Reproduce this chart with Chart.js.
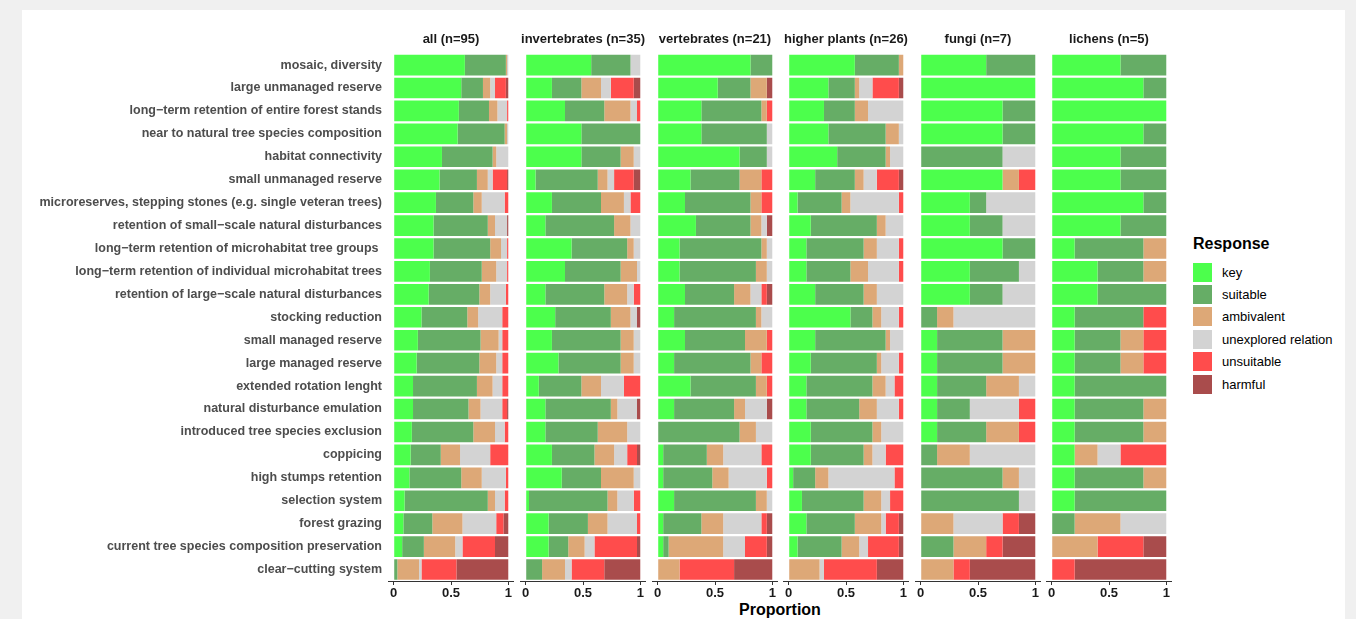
<!DOCTYPE html>
<html>
<head>
<meta charset="utf-8">
<script src="https://cdn.jsdelivr.net/npm/chart.js@4.4.1/dist/chart.umd.min.js"></script>
<style>
  body { margin: 0; width: 1356px; height: 619px; overflow: hidden; background: #f0f0f0;
         font-family: "Liberation Sans", Arial, sans-serif; }
  #page { position: absolute; left: 22px; top: 10px; width: 1323px; height: 609px; background: #fff; }
  .panel { position: absolute; top: 28px; height: 575px; }
  #xtitle { position: absolute; left: 680px; width: 200px; top: 601px; text-align: center;
            font-weight: bold; font-size: 16px; color: #000; }
  #legend { position: absolute; left: 1193px; top: 235px; }
  #legend .ttl { font-weight: bold; font-size: 16px; color: #000; height: 26px; }
  #legend .item { height: 22.4px; display: flex; align-items: center; font-size: 13px; color: #000; }
  #legend .sw { width: 19px; height: 19px; margin-right: 10px; }
</style>
</head>
<body>
<div id="page"></div>
<div id="xtitle">Proportion</div>
<div id="legend"><div class="ttl">Response</div></div>
<script>
// measures, top to bottom
const categories = [
  'mosaic, diversity',
  'large unmanaged reserve',
  'long−term retention of entire forest stands',
  'near to natural tree species composition',
  'habitat connectivity',
  'small unmanaged reserve',
  'microreserves, stepping stones (e.g. single veteran trees)',
  'retention of small−scale natural disturbances',
  'long−term retention of microhabitat tree groups ',
  'long−term retention of individual microhabitat trees',
  'retention of large−scale natural disturbances',
  'stocking reduction',
  'small managed reserve',
  'large managed reserve',
  'extended rotation lenght',
  'natural disturbance emulation',
  'introduced tree species exclusion',
  'coppicing',
  'high stumps retention',
  'selection system',
  'forest grazing',
  'current tree species composition preservation',
  'clear−cutting system'
];

const responses = ['key', 'suitable', 'ambivalent', 'unexplored relation', 'unsuitable', 'harmful'];
const responseColors = ['#4CFF4C', '#66AD66', '#DDA877', '#D3D3D3', '#FF4C4C', '#A94C4C'];

const groups = ['all', 'invertebrates', 'vertebrates', 'higher plants', 'fungi', 'lichens'];
const groupN = [95, 35, 21, 26, 7, 5];

// counts per measure: key, suitable, ambivalent, unexplored, unsuitable, harmful
const allCounts = [
  [59,34,1,1,0,0],[56,18,6,4,9,2],[54,25,7,8,1,0],[53,39,2,1,0,0],[40,42,3,10,0,0],
  [38,31,9,4,12,1],[35,31,7,19,3,0],[33,45,6,10,0,1],[33,47,9,5,1,0],[30,43,12,9,1,0],
  [29,42,9,13,2,0],[23,38,9,20,5,0],[20,52,15,3,5,0],[19,52,14,5,5,0],[16,53,13,8,5,0],
  [16,46,10,18,4,1],[15,51,18,8,3,0],[14,25,16,25,15,0],[13,43,17,20,2,0],[9,69,6,8,3,0],
  [8,24,25,28,6,4],[7,18,26,6,27,11],[0,3,18,2,29,43]
];
const invertebrateCounts = [
  [20,12,0,3,0,0],[8,9,6,3,7,2],[12,12,8,2,1,0],[17,18,0,0,0,0],[17,12,4,2,0,0],
  [3,19,3,2,6,2],[8,15,7,2,3,0],[6,21,5,3,0,0],[14,17,2,2,0,0],[12,17,5,1,0,0],
  [6,18,7,2,2,0],[9,17,6,2,0,1],[8,21,4,2,0,0],[10,19,4,2,0,0],[4,13,6,7,5,0],
  [6,20,2,6,0,1],[6,16,9,4,0,0],[8,13,6,4,3,1],[11,12,10,2,0,0],[1,24,3,5,2,0],
  [7,12,6,9,1,0],[7,6,5,3,13,1],[0,5,7,2,10,11]
];
const vertebrateCounts = [
  [17,4,0,0,0,0],[11,6,3,0,0,1],[8,11,1,0,1,0],[8,12,0,1,0,0],[15,5,0,1,0,0],
  [6,9,4,0,2,0],[5,12,2,0,2,0],[7,10,2,1,0,1],[4,15,1,1,0,0],[4,14,2,1,0,0],
  [5,9,3,2,1,1],[3,15,1,2,0,0],[5,11,4,0,1,0],[3,14,2,0,2,0],[6,12,2,0,1,0],
  [3,11,2,4,0,1],[0,15,3,3,0,0],[1,8,3,7,2,0],[1,9,3,7,1,0],[3,15,2,1,0,0],
  [1,7,4,7,1,1],[1,1,10,4,4,1],[0,0,4,0,10,7]
];
const plantCounts = [
  [15,10,1,0,0,0],[9,6,1,3,6,1],[8,7,3,8,0,0],[9,13,3,1,0,0],[11,11,1,3,0,0],
  [6,9,2,3,5,1],[2,10,2,11,1,0],[5,15,2,4,0,0],[4,13,3,5,1,0],[4,10,4,7,1,0],
  [6,11,3,6,0,0],[14,5,2,4,1,0],[6,16,1,3,0,0],[5,15,1,4,1,0],[4,15,3,2,2,0],
  [4,12,4,5,1,0],[5,14,2,5,0,0],[5,12,2,3,4,0],[1,5,3,15,2,0],[3,14,4,2,3,0],
  [4,11,6,1,3,1],[2,10,4,2,7,1],[0,0,7,1,12,6]
];
const fungiCounts = [
  [4,3,0,0,0,0],[7,0,0,0,0,0],[5,2,0,0,0,0],[5,2,0,0,0,0],[0,5,0,2,0,0],
  [5,0,1,0,1,0],[3,1,0,3,0,0],[3,2,0,2,0,0],[5,2,0,0,0,0],[3,3,0,1,0,0],
  [3,2,0,2,0,0],[0,1,1,5,0,0],[1,4,2,0,0,0],[1,4,2,0,0,0],[1,3,2,1,0,0],
  [1,2,0,3,1,0],[1,3,2,0,1,0],[0,1,2,4,0,0],[0,5,1,1,0,0],[0,6,0,1,0,0],
  [0,0,2,3,1,1],[0,2,2,0,1,2],[0,0,2,0,1,4]
];
const lichenCounts = [
  [3,2,0,0,0,0],[4,1,0,0,0,0],[5,0,0,0,0,0],[4,1,0,0,0,0],[3,2,0,0,0,0],
  [3,2,0,0,0,0],[4,1,0,0,0,0],[3,2,0,0,0,0],[1,3,1,0,0,0],[2,2,1,0,0,0],
  [2,3,0,0,0,0],[1,3,0,0,1,0],[1,2,1,0,1,0],[1,2,1,0,1,0],[1,4,0,0,0,0],
  [1,3,1,0,0,0],[1,3,1,0,0,0],[1,0,1,1,2,0],[1,3,1,0,0,0],[1,4,0,0,0,0],
  [0,1,2,2,0,0],[0,0,2,0,2,1],[0,0,0,0,1,4]
];
const groupCounts = [allCounts, invertebrateCounts, vertebrateCounts, plantCounts, fungiCounts, lichenCounts];

const tickValues = [0, 0.5, 1];

const FONT = '"Liberation Sans", Arial, sans-serif';
const panelLefts = [388, 520, 652, 783, 915, 1046];
const panelWidth = 126;
const labelLeft = 22;

groups.forEach((g, k) => {
  const first = k === 0;
  const n = groupN[k];
  const counts = groupCounts[k];

  const wrap = document.createElement('div');
  wrap.className = 'panel';
  const left = first ? labelLeft : panelLefts[k];
  wrap.style.left = left + 'px';
  wrap.style.width = (panelLefts[k] + panelWidth - left) + 'px';
  const canvas = document.createElement('canvas');
  wrap.appendChild(canvas);
  document.body.appendChild(wrap);

  new Chart(canvas, {
    type: 'bar',
    data: {
      labels: categories,
      datasets: responses.map((r, j) => ({
        label: r,
        data: counts.map(row => row[j] / n),
        backgroundColor: responseColors[j],
        borderWidth: 0,
        barPercentage: 0.9,
        categoryPercentage: 1
      }))
    },
    options: {
      indexAxis: 'y',
      responsive: true,
      maintainAspectRatio: false,
      animation: false,
      layout: { padding: 0 },
      plugins: {
        legend: { display: false },
        tooltip: { enabled: false },
        title: {
          display: true,
          text: g + ' (n=' + n + ')',
          fullSize: false,
          color: '#1a1a1a',
          font: { family: FONT, size: 13, weight: 'bold', lineHeight: 1.2 },
          padding: { top: 4, bottom: 6 }
        }
      },
      scales: {
        x: {
          type: 'linear',
          stacked: true,
          min: -0.05,
          max: 1.05,
          afterBuildTicks: s => { s.ticks = tickValues.map(v => ({ value: v })); },
          afterFit: s => { s.height = 22; },
          ticks: {
            callback: v => String(v),
            color: '#1a1a1a',
            font: { family: FONT, size: 13, weight: 'bold' },
            padding: 1,
            maxRotation: 0,
            autoSkip: false
          },
          grid: { drawOnChartArea: false, drawTicks: true, tickLength: 4, color: '#333' },
          border: { display: true, color: '#333', width: 1 }
        },
        y: {
          type: 'category',
          stacked: true,
          offset: true,
          display: first,
          grid: { display: false, drawTicks: false },
          border: { display: false },
          ticks: {
            color: '#4d4d4d',
            font: { family: FONT, size: 12.5, weight: 'bold' },
            padding: 6,
            autoSkip: false
          },
          afterFit: s => { if (first) s.width = panelLefts[0] - labelLeft; }
        }
      }
    }
  });
});

// legend
const legend = document.getElementById('legend');
responses.forEach((r, j) => {
  const item = document.createElement('div');
  item.className = 'item';
  const sw = document.createElement('div');
  sw.className = 'sw';
  sw.style.background = responseColors[j];
  const txt = document.createElement('span');
  txt.textContent = r;
  item.appendChild(sw);
  item.appendChild(txt);
  legend.appendChild(item);
});
</script>
</body>
</html>
